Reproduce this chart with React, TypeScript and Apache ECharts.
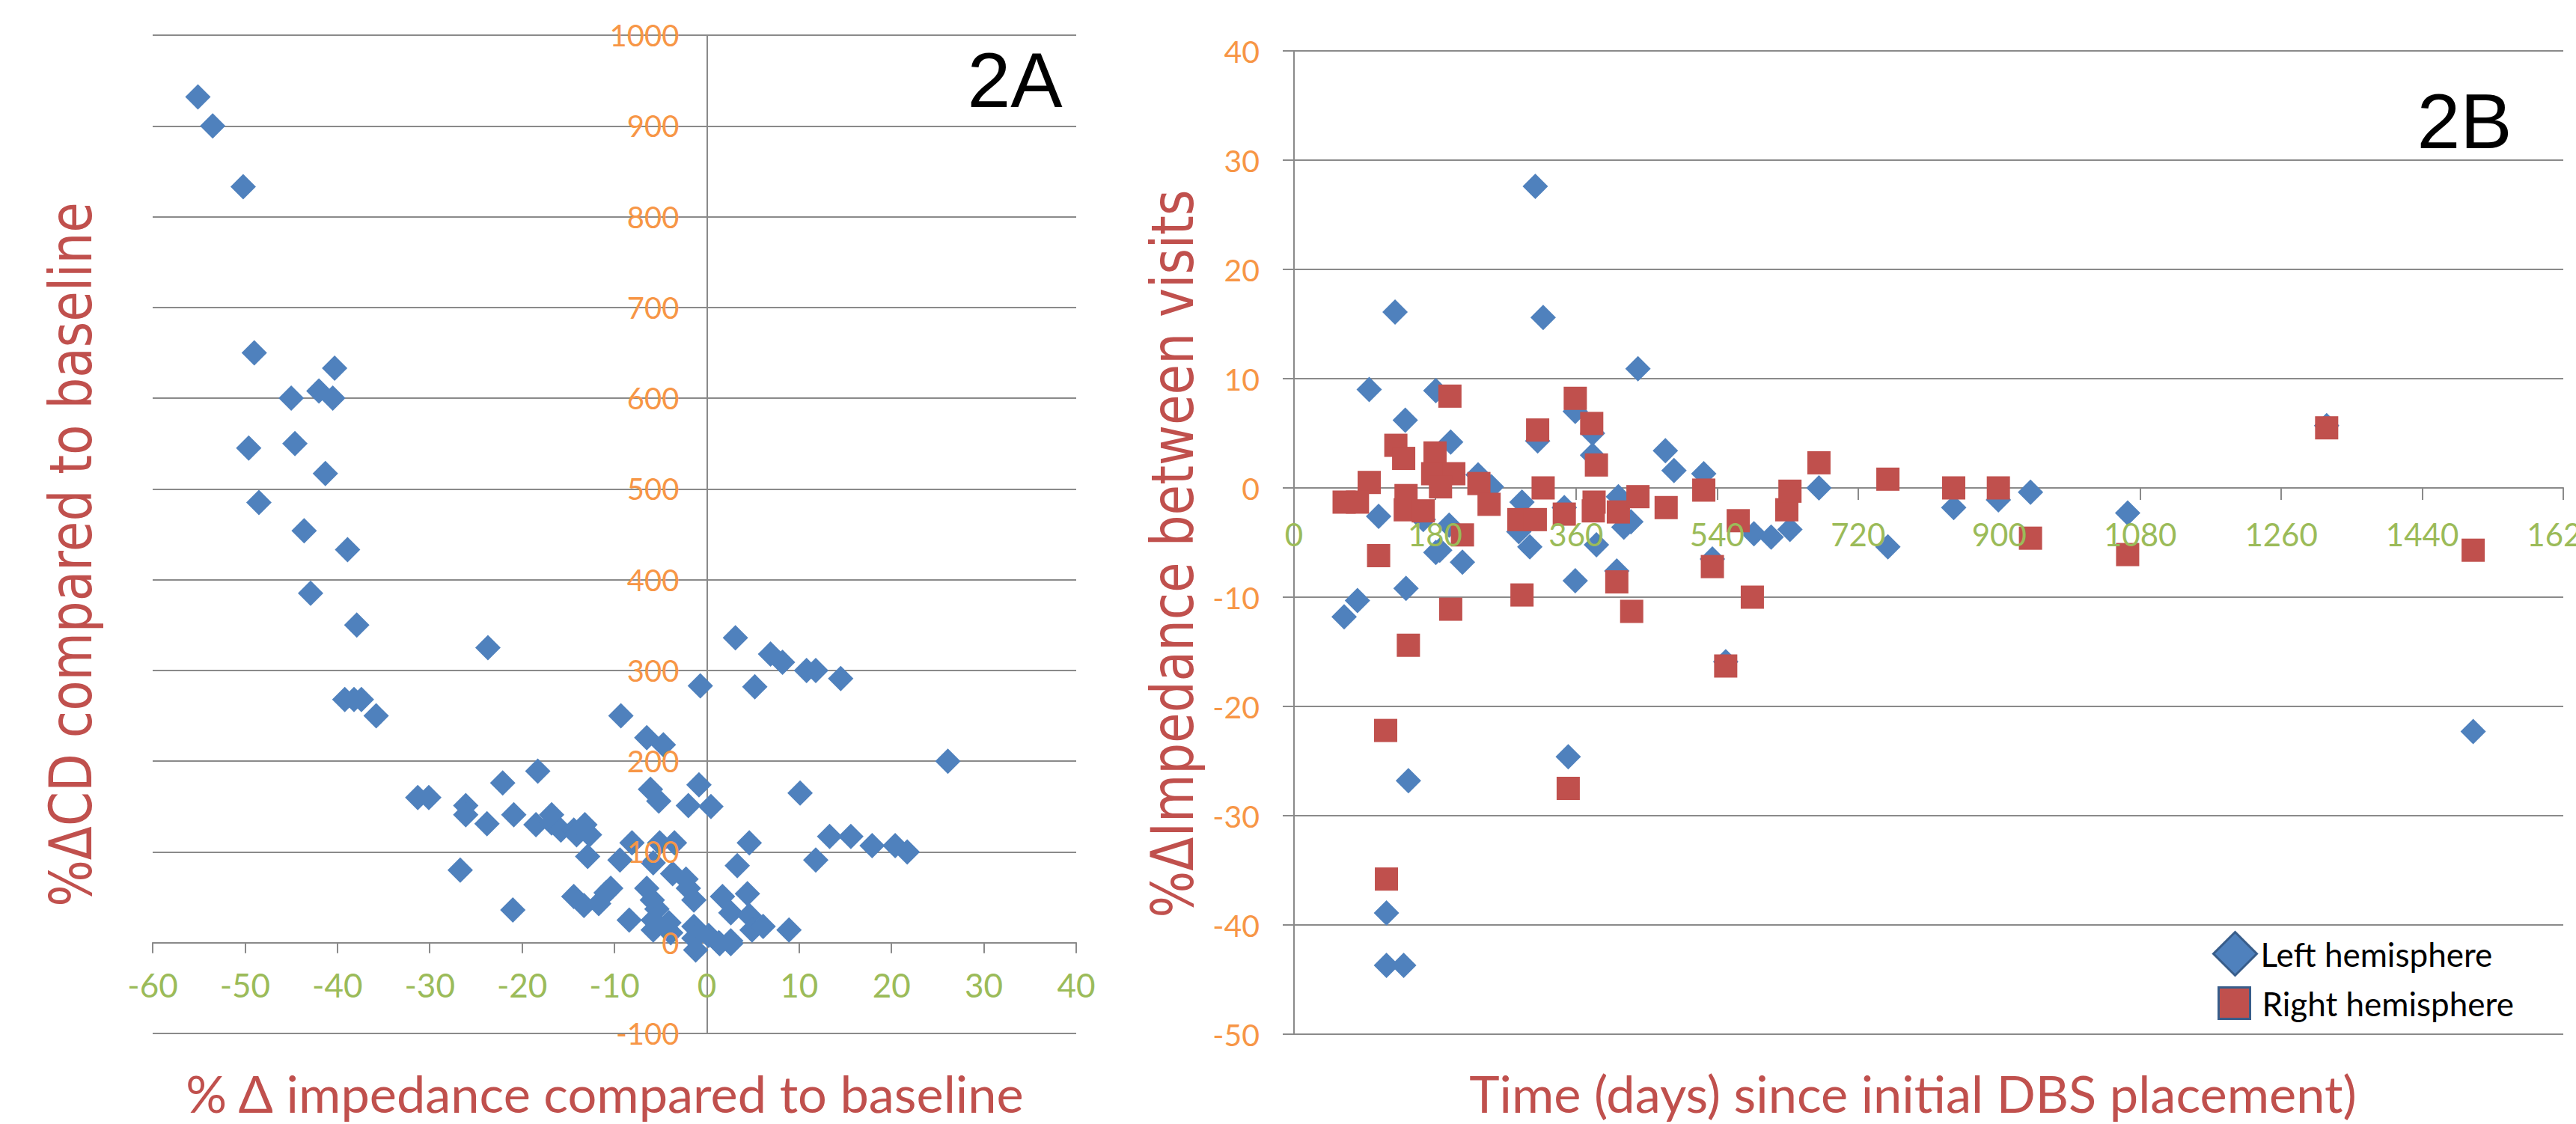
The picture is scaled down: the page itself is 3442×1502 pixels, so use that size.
import React, { useEffect, useRef } from "react";
import * as echarts from "echarts";

// ---------- Panel 2A: [% Δ impedance vs baseline, % ΔCD vs baseline] ----------
const panelA: [number, number][] = [
  [-55.1, 932], [-53.5, 900], [-50.2, 833], [-49.0, 650], [-40.3, 633], [-45.0, 600],
  [-42.0, 608], [-40.5, 600], [-49.6, 545], [-44.6, 550], [-41.3, 517], [-48.5, 485],
  [-43.6, 454], [-38.9, 433], [-42.9, 385], [-37.9, 350], [-23.7, 325], [-39.2, 268],
  [-38.2, 268], [-37.4, 268], [-35.8, 250], [-31.3, 160], [-30.1, 160], [-26.1, 151],
  [-26.1, 141], [-22.1, 176], [-18.3, 189], [-20.9, 141], [-23.8, 131], [3.1, 336],
  [-0.7, 283], [5.2, 282], [-9.3, 250], [-6.5, 226], [-4.7, 218], [-0.85, 174],
  [-6.1, 169], [-5.2, 156], [-2.0, 151], [0.45, 150], [-18.5, 130], [-16.8, 141],
  [-16.8, 132], [-15.8, 124], [-14.4, 124], [-14.1, 119], [-13.2, 130], [-12.7, 119],
  [-8.1, 110], [-5.1, 110], [-3.5, 110], [-12.9, 95], [-9.4, 91], [-5.8, 88],
  [-26.7, 80], [4.6, 110], [3.3, 85], [-3.7, 76], [-2.25, 70], [-2.0, 60],
  [-1.4, 47], [-6.5, 60], [-5.9, 47], [-5.4, 37], [-5.8, 25], [-5.8, 14],
  [-4.1, 22], [-3.9, 11], [1.7, 51], [4.4, 54], [2.6, 33], [4.6, 30],
  [4.9, 14], [-1.4, 18], [-1.4, 5], [0.2, 8], [1.3, 0], [2.6, 2],
  [-1.2, -8], [-14.4, 51], [-13.3, 41], [-11.7, 43], [-10.9, 55], [-10.4, 60],
  [-21.0, 36], [-8.4, 25], [6.9, 318], [8.2, 309], [10.8, 300], [11.8, 300],
  [14.5, 291], [26.1, 200], [10.1, 165], [11.8, 91], [13.3, 117], [15.6, 117],
  [17.9, 107], [20.4, 107], [21.7, 100], [6.1, 18], [8.9, 14], [1.4, -1], [2.6, -1],
];

// ---------- Panel 2B: [days since DBS placement, % Δ impedance between visits] ----------
const leftHemisphere: [number, number][] = [
  [308, 27.6], [129, 16.1], [318, 15.6], [439, 10.9], [96, 9.0], [181, 8.9],
  [359, 7.0], [142, 6.2], [311, 4.3], [381, 5.0], [200, 4.2], [381, 3.0],
  [474, 3.4], [485, 1.6], [523, 1.3], [235, 1.2], [252, 0.1], [670, 0.0],
  [1318, 5.7], [758, -5.4], [842, -1.8], [899, -1.1], [940, -0.4], [1064, -2.3],
  [1505, -22.3], [633, -3.8], [609, -4.5], [587, -4.2], [534, -6.5], [551, -15.9],
  [291, -1.3], [287, -4.0], [301, -5.4], [345, -1.8], [414, -0.8], [430, -3.1],
  [421, -3.6], [386, -5.2], [359, -8.5], [412, -7.6], [108, -2.6], [165, -2.9],
  [186, -5.7], [181, -5.9], [198, -3.4], [215, -6.8], [143, -9.2], [81, -10.3],
  [64, -11.8], [350, -24.6], [146, -26.8], [118, -38.9], [118, -43.7], [140, -43.7],
];

const rightHemisphere: [number, number][] = [
  [199, 8.4], [359, 8.2], [380, 5.9], [311, 5.3], [130, 3.9], [140, 2.7],
  [180, 3.2], [386, 2.1], [96, 0.5], [177, 1.3], [204, 1.3], [187, 0.1],
  [236, 0.4], [318, 0.0], [64, -1.3], [81, -1.3], [143, -0.7], [142, -2.0],
  [165, -2.1], [249, -1.5], [287, -2.9], [308, -2.9], [345, -2.4], [383, -1.3],
  [382, -2.1], [414, -2.2], [439, -0.8], [475, -1.8], [523, -0.2], [534, -7.2],
  [567, -3.0], [585, -10.0], [551, -16.3], [629, -2.0], [633, -0.3], [670, 2.3],
  [758, 0.8], [842, 0.0], [899, 0.0], [940, -4.6], [1064, -6.1], [1318, 5.5],
  [1505, -5.7], [108, -6.2], [146, -14.4], [117, -22.2], [118, -35.8], [200, -11.1],
  [291, -9.8], [412, -8.6], [431, -11.3], [350, -27.5], [215, -4.3],
];

// ---------- Axis scales ----------
const aX = { min: -60, max: 40, interval: 10 };
const aY = { min: -100, max: 1000, interval: 100 };
const bX = { min: 0, max: 1620, interval: 180 };
const bY = { min: -50, max: 40, interval: 10 };

// ---------- Texts ----------
const aXTitle = "% Δ impedance compared to baseline";
const aYTitle = "%ΔCD compared to baseline";
const bXTitle = "Time (days) since initial DBS placement)";
const bYTitle = "%ΔImpedance between visits";
const seriesNames = ["Left hemisphere", "Right hemisphere"];

const BLUE = "#4F81BD";
const RED = "#C0504D";
const ORANGE = "#F79646";
const GREEN = "#9BBB59";
const GRID = "#8A8A8A";
const TITLE_RED = "#C0504D";

const gridA = { left: 204, top: 47, width: 1234, height: 1334 };
const gridB = { left: 1729, top: 68, width: 1696, height: 1314 };

function zeroOffsetFromBottom(g: { height: number }, s: { min: number; max: number }) {
  return -g.height * (0 - s.min) / (s.max - s.min);
}

const plain = (v: number) => String(v);

export default function App() {
  const ref = useRef<HTMLDivElement>(null);
  useEffect(() => {
    if (!ref.current) return;
    const chart = echarts.init(ref.current, null, { renderer: "svg" });

    const mainX = (gi: number, s: any, tickLen: number) => ({
      gridIndex: gi, type: "value", position: "bottom", ...s,
      axisLine: { show: true, onZero: true, lineStyle: { color: GRID, width: 2 } },
      axisTick: { show: true, length: tickLen, lineStyle: { color: GRID, width: 2 } },
      axisLabel: { show: false },
      splitLine: { show: false },
    });
    const mainY = (gi: number, s: any, tickLen: number) => ({
      gridIndex: gi, type: "value", position: "left", ...s,
      axisLine: { show: true, onZero: true, lineStyle: { color: GRID, width: 2 } },
      axisTick: { show: true, length: tickLen, lineStyle: { color: GRID, width: 2 } },
      axisLabel: { show: false },
      splitLine: { show: true, lineStyle: { color: GRID, width: 2 } },
    });
    const labelX = (gi: number, s: any, offset: number, margin: number, fs: number) => ({
      gridIndex: gi, type: "value", position: "bottom", offset, z: 10, ...s,
      axisLine: { show: false, onZero: false },
      axisTick: { show: false },
      splitLine: { show: false },
      axisLabel: { show: true, color: GREEN, fontFamily: "Lato", fontSize: fs, margin, formatter: plain },
    });
    const labelY = (gi: number, s: any, offset: number, margin: number, fs: number) => ({
      gridIndex: gi, type: "value", position: "left", offset, z: 10, ...s,
      axisLine: { show: false, onZero: false },
      axisTick: { show: false },
      splitLine: { show: false },
      axisLabel: { show: true, color: ORANGE, fontFamily: "Lato", fontSize: fs, margin, formatter: plain },
    });

    const option: any = {
      animation: false,
      backgroundColor: "#ffffff",
      grid: [
        { ...gridA, containLabel: false, outerBoundsMode: "none" },
        { ...gridB, containLabel: false, outerBoundsMode: "none" },
      ],
      xAxis: [
        mainX(0, aX, 14),
        mainX(1, bX, 16),
        labelX(0, aX, zeroOffsetFromBottom(gridA, aY), 34, 44),
        labelX(1, bX, zeroOffsetFromBottom(gridB, bY), 41, 42),
      ],
      yAxis: [
        mainY(0, aY, 13),
        mainY(1, bY, 15),
        labelY(0, aY, -gridA.width * (0 - aX.min) / (aX.max - aX.min), 37, 40),
        labelY(1, bY, 0, 46, 41),
      ],
      legend: [
        {
          data: [seriesNames[0]], orient: "vertical", left: 2951, top: 1239,
          icon: "diamond", itemWidth: 58, itemHeight: 58,
          itemStyle: { borderColor: "#385D8A", borderWidth: 3 },
          textStyle: { fontFamily: "Lato", fontSize: 44, color: "#000", padding: [18, 0, 0, 0] },
          selectedMode: false,
        },
        {
          data: [seriesNames[1]], orient: "vertical", left: 2958, top: 1313,
          icon: "rect", itemWidth: 42, itemHeight: 42,
          itemStyle: { borderColor: "#385D8A", borderWidth: 3 },
          textStyle: { fontFamily: "Lato", fontSize: 44, color: "#000", padding: [0, 0, 0, 11] },
          selectedMode: false,
        },
      ],
      series: [
        {
          name: "2A", type: "scatter", xAxisIndex: 0, yAxisIndex: 0,
          symbol: "diamond", symbolSize: 34, data: panelA,
          itemStyle: { color: BLUE, opacity: 1 },
        },
        {
          name: seriesNames[0], type: "scatter", xAxisIndex: 1, yAxisIndex: 1,
          symbol: "diamond", symbolSize: 34, data: leftHemisphere,
          itemStyle: { color: BLUE, opacity: 1 },
        },
        {
          name: seriesNames[1], type: "scatter", xAxisIndex: 1, yAxisIndex: 1,
          symbol: "rect", symbolSize: 31, data: rightHemisphere,
          itemStyle: { color: RED, opacity: 1 },
        },
      ],
      graphic: [
        {
          type: "text", x: 1356, y: 107, z: 20,
          style: { text: "2A", font: '104px "Liberation Sans"', fill: "#000", align: "center", verticalAlign: "middle" },
        },
        {
          type: "text", x: 3293, y: 162, z: 20,
          style: { text: "2B", font: '104px "Liberation Sans"', fill: "#000", align: "center", verticalAlign: "middle" },
        },
        {
          type: "text", x: 808, y: 1460, z: 20,
          style: { text: aXTitle, font: "68.5px Lato", fill: TITLE_RED, align: "center", verticalAlign: "middle" },
        },
        {
          type: "text", x: 2556, y: 1460, z: 20,
          style: { text: bXTitle, font: "68.5px Lato", fill: TITLE_RED, align: "center", verticalAlign: "middle" },
        },
        {
          type: "text", x: 95, y: 741, rotation: Math.PI / 2, scaleY: 1.18, z: 20,
          style: { text: aYTitle, font: '66px "DejaVu Sans"', fill: TITLE_RED, align: "center", verticalAlign: "middle" },
        },
        {
          type: "text", x: 1567, y: 740, rotation: Math.PI / 2, scaleY: 1.18, z: 20,
          style: { text: bYTitle, font: '66px "DejaVu Sans"', fill: TITLE_RED, align: "center", verticalAlign: "middle" },
        },
      ],
    };
    chart.setOption(option);
    return () => chart.dispose();
  }, []);
  return (
    <div
      ref={ref}
      style={{ position: "absolute", left: 0, top: 0, width: 3442, height: 1502, background: "#fff" }}
    />
  );
}
